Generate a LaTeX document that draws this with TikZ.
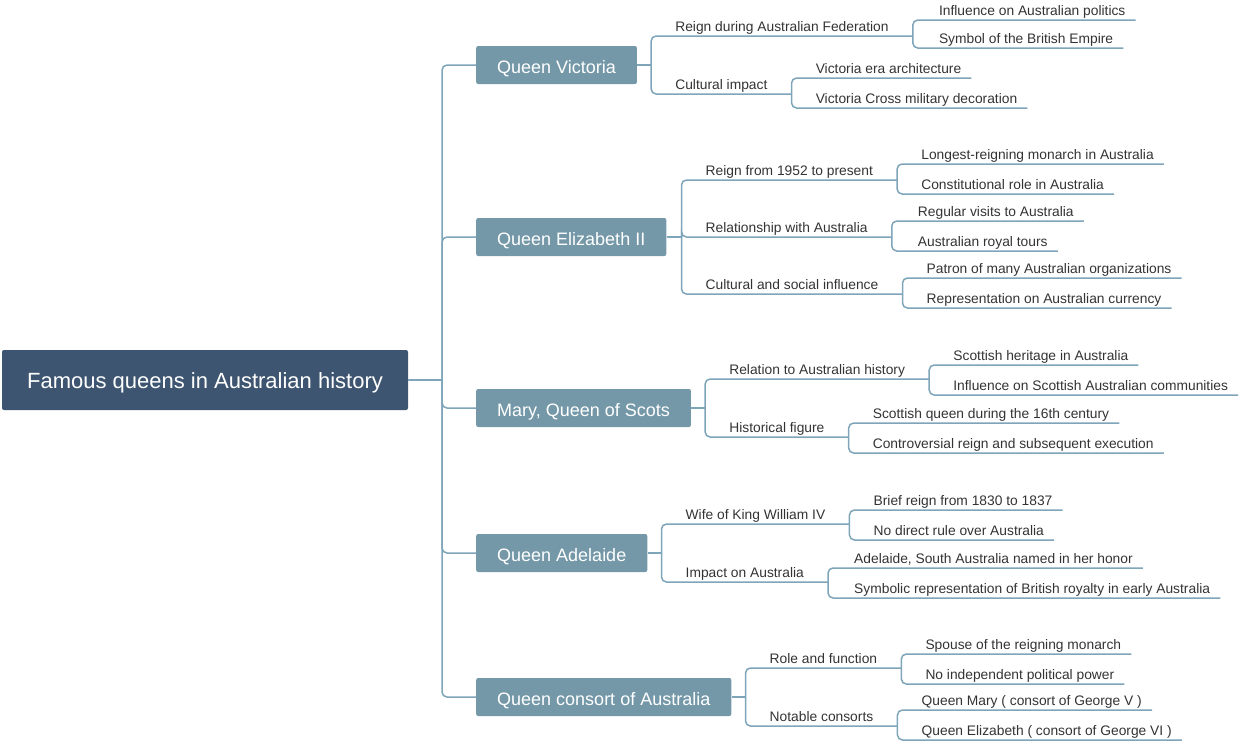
\documentclass[tikz,border=0pt]{standalone}
\usepackage{fontspec}
\setmainfont{Liberation Sans}
\usetikzlibrary{calc}
\definecolor{rootblue}{HTML}{3E5571}
\definecolor{queenblue}{HTML}{7498A8}
\definecolor{lineblue}{HTML}{7FA5BA}
\definecolor{textgray}{HTML}{333333}

\begin{document}
\begin{tikzpicture}[x=1pt,y=-1pt,
	ln/.style={lineblue,line width=1.5pt,rounded corners=5pt},
	rootbox/.style={fill=rootblue,text=white,rounded corners=2pt,font=\fontsize{22}{26}\selectfont,minimum width=406pt,minimum height=60pt,text height=16pt,text depth=0pt},
	queen/.style={fill=queenblue,text=white,rounded corners=2pt,font=\fontsize{18}{21}\selectfont,minimum height=38pt,inner xsep=21pt,anchor=west,text height=16pt,text depth=0pt},
	topic/.style={font=\fontsize{13.8}{16}\selectfont,text=textgray,anchor=south west,inner xsep=24pt,inner ysep=1.5pt,text height=10pt,text depth=3pt},
	leaf/.style={font=\fontsize{13.8}{16}\selectfont,text=textgray,anchor=south west,inner xsep=0pt,inner ysep=1.5pt,text height=10pt,text depth=3pt}]
	\useasboundingbox (0,0) rectangle (1240,740);
	\node[rootbox] (R) at (205,380) {Famous queens in Australian history};
	\coordinate (T) at (442,380);
	\node[queen] (qv) at (476,65) {Queen Victoria};
	\node[queen] (qe) at (476,237) {Queen Elizabeth II};
	\node[queen] (qm) at (476,408) {Mary, Queen of Scots};
	\node[queen] (qa) at (476,553) {Queen Adelaide};
	\node[queen] (qc) at (476,697) {Queen consort of Australia};
	\draw[ln] (R.east) -- (T);
	\foreach \q in {qv,qe,qm,qa,qc} \draw[ln] (T) |- (\q.west);

	\coordinate (qvb) at ($(qv.east)+(14,0)$);
	\node[topic] (v1) at ($(qvb)+(0,-29)$) {Reign during Australian Federation};
	\node[topic] (v2) at ($(qvb)+(0,29)$) {Cultural impact};
	\node[leaf] (v11) at ($(v1.south east)+(26,-16)$) {Influence on Australian politics};
	\node[leaf] (v12) at ($(v1.south east)+(26,12)$) {Symbol of the British Empire};
	\node[leaf] (v21) at ($(v2.south east)+(24,-16)$) {Victoria era architecture};
	\node[leaf] (v22) at ($(v2.south east)+(24,14)$) {Victoria Cross military decoration};

	\coordinate (qeb) at ($(qe.east)+(15,0)$);
	\node[topic] (e1) at ($(qeb)+(0,-57)$) {Reign from 1952 to present};
	\node[topic] (e2) at (qeb) {Relationship with Australia};
	\node[topic] (e3) at ($(qeb)+(0,57)$) {Cultural and social influence};
	\node[leaf] (e11) at ($(e1.south east)+(24,-16)$) {Longest-reigning monarch in Australia};
	\node[leaf] (e12) at ($(e1.south east)+(24,14)$) {Constitutional role in Australia};
	\node[leaf] (e21) at ($(e2.south east)+(26,-16)$) {Regular visits to Australia};
	\node[leaf] (e22) at ($(e2.south east)+(26,14)$) {Australian royal tours};
	\node[leaf] (e31) at ($(e3.south east)+(24,-16)$) {Patron of many Australian organizations};
	\node[leaf] (e32) at ($(e3.south east)+(24,14)$) {Representation on Australian currency};

	\coordinate (qmb) at ($(qm.east)+(14,0)$);
	\node[topic] (m1) at ($(qmb)+(0,-29)$) {Relation to Australian history};
	\node[topic] (m2) at ($(qmb)+(0,29)$) {Historical figure};
	\node[leaf] (m11) at ($(m1.south east)+(24,-14)$) {Scottish heritage in Australia};
	\node[leaf] (m12) at ($(m1.south east)+(24,16)$) {Influence on Scottish Australian communities};
	\node[leaf] (m21) at ($(m2.south east)+(24,-14)$) {Scottish queen during the 16th century};
	\node[leaf] (m22) at ($(m2.south east)+(24,16)$) {Controversial reign and subsequent execution};

	\coordinate (qab) at ($(qa.east)+(14,0)$);
	\node[topic] (a1) at ($(qab)+(0,-29)$) {Wife of King William IV};
	\node[topic] (a2) at ($(qab)+(0,29)$) {Impact on Australia};
	\node[leaf] (a11) at ($(a1.south east)+(24,-14)$) {Brief reign from 1830 to 1837};
	\node[leaf] (a12) at ($(a1.south east)+(24,16)$) {No direct rule over Australia};
	\node[leaf] (a21) at ($(a2.south east)+(26,-14)$) {Adelaide, South Australia named in her honor};
	\node[leaf] (a22) at ($(a2.south east)+(26,16)$) {Symbolic representation of British royalty in early Australia};

	\coordinate (qcb) at ($(qc.east)+(14,0)$);
	\node[topic] (c1) at ($(qcb)+(0,-29)$) {Role and function};
	\node[topic] (c2) at ($(qcb)+(0,29)$) {Notable consorts};
	\node[leaf] (c11) at ($(c1.south east)+(24,-14)$) {Spouse of the reigning monarch};
	\node[leaf] (c12) at ($(c1.south east)+(24,16)$) {No independent political power};
	\node[leaf] (c21) at ($(c2.south east)+(24,-16)$) {Queen Mary ( consort of George V )};
	\node[leaf] (c22) at ($(c2.south east)+(24,14)$) {Queen Elizabeth ( consort of George VI )};

	\foreach \q in {qv,qe,qm,qa,qc} \draw[ln] (\q.east) -- (\q b);
	\foreach \a/\b in {qvb/v1,qvb/v2,qeb/e1,qeb/e2,qeb/e3,qmb/m1,qmb/m2,qab/a1,qab/a2,qcb/c1,qcb/c2}
		\draw[ln] (\a) |- (\b.south east);
	\foreach \a/\b in {v1/v11,v1/v12,v2/v21,v2/v22,e1/e11,e1/e12,e2/e21,e2/e22,e3/e31,e3/e32,
		m1/m11,m1/m12,m2/m21,m2/m22,a1/a11,a1/a12,a2/a21,a2/a22,c1/c11,c1/c12,c2/c21,c2/c22}
		\draw[ln] (\a.south east) |- ([xshift=10pt]\b.south east);
\end{tikzpicture}
\end{document}
